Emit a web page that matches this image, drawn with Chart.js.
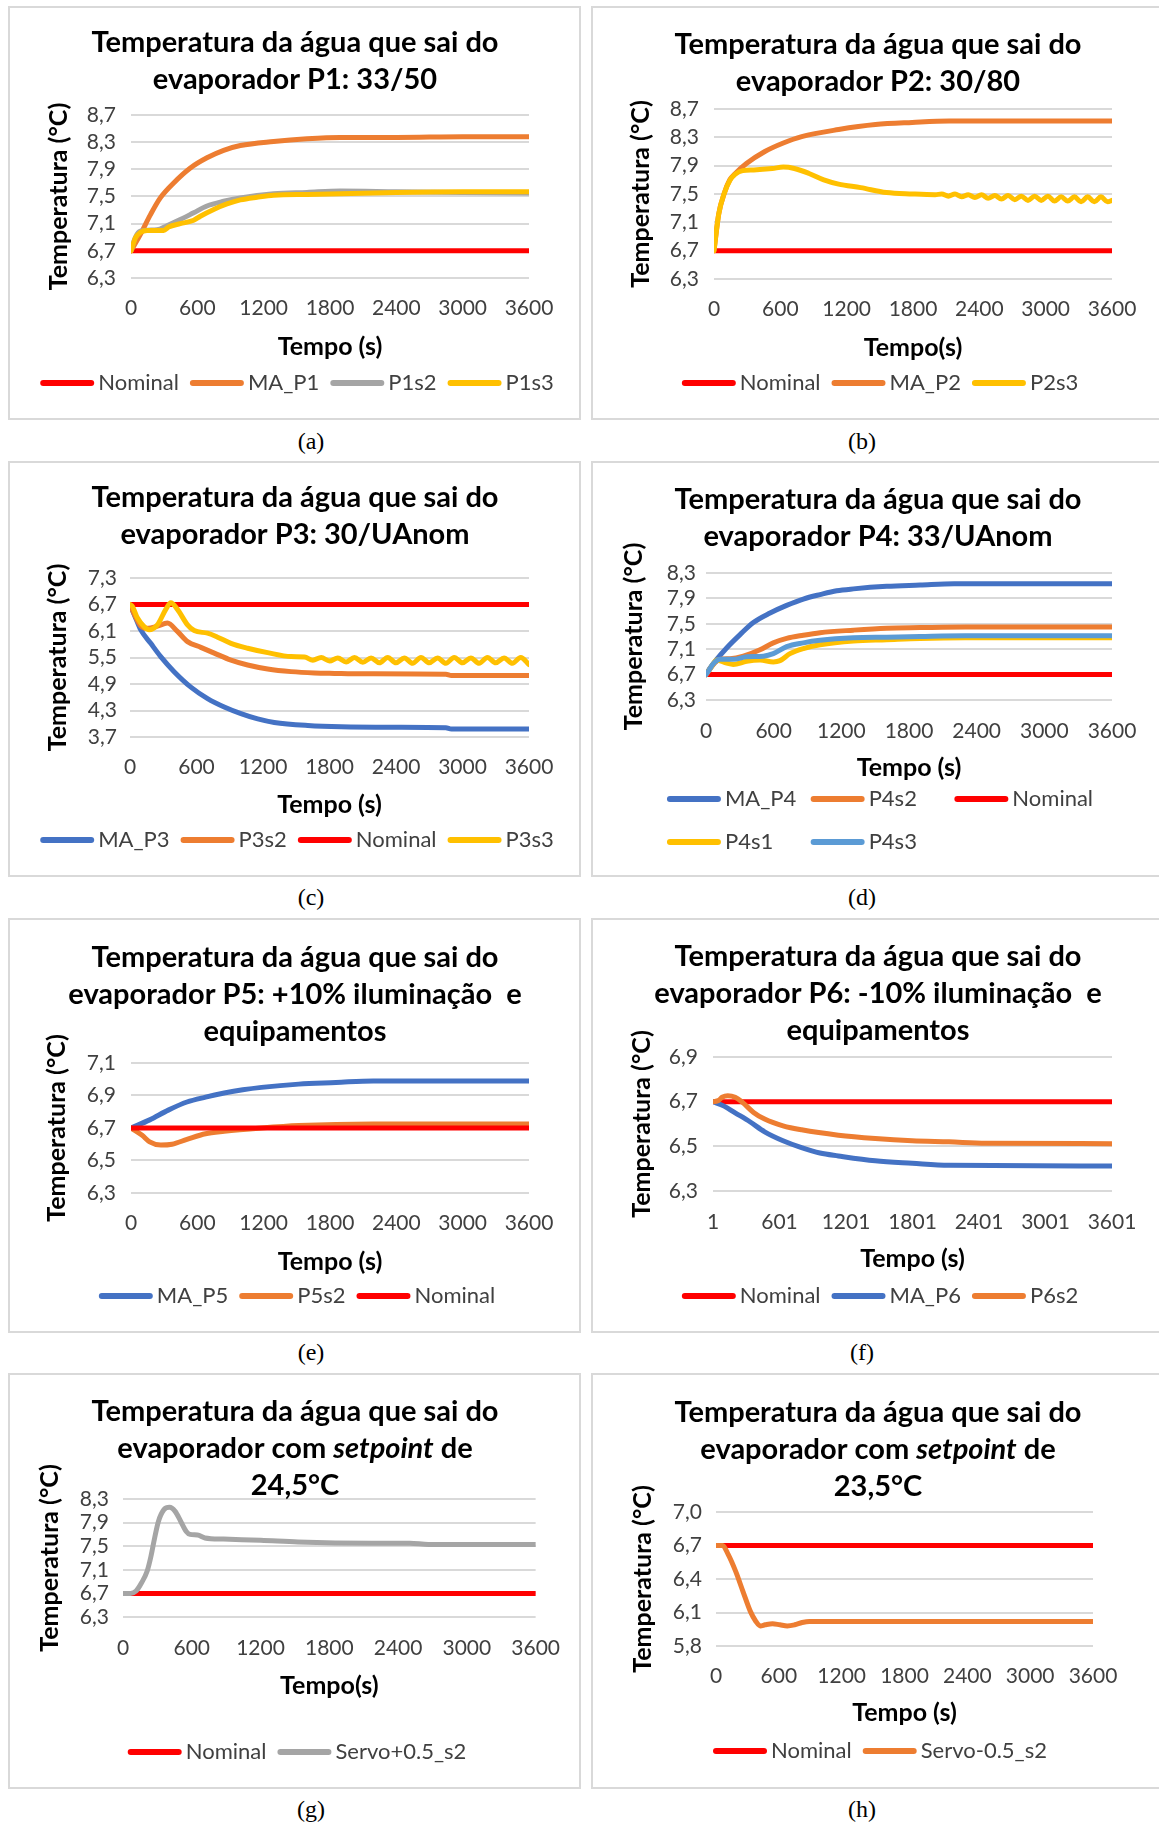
<!DOCTYPE html>
<html>
<head>
<meta charset="utf-8">
<script src="https://cdn.jsdelivr.net/npm/chart.js@4.4.1/dist/chart.umd.min.js"></script>
<style>
  html, body { margin: 0; padding: 0; background: #fff; }
  body { width: 1159px; height: 1824px; position: relative; overflow: hidden; }
  .panel { position: absolute; border: 2px solid #d9d9d9; background: #fff; }
  .panel canvas { display: block; }
  .cap { position: absolute; font-family: "Liberation Serif", "Times New Roman", serif; font-size: 24px; color: #000;
         transform: translate(-50%, -50%); white-space: nowrap; }
</style>
</head>
<body>
<div class="panel" style="left:8px;top:6px;"><canvas id="cA" width="569" height="410"></canvas></div>
<div class="panel" style="left:591px;top:6px;"><canvas id="cB" width="569" height="410"></canvas></div>
<div class="panel" style="left:8px;top:461px;"><canvas id="cC" width="569" height="412"></canvas></div>
<div class="panel" style="left:591px;top:461px;"><canvas id="cD" width="569" height="412"></canvas></div>
<div class="panel" style="left:8px;top:918px;"><canvas id="cE" width="569" height="411"></canvas></div>
<div class="panel" style="left:591px;top:918px;"><canvas id="cF" width="569" height="411"></canvas></div>
<div class="panel" style="left:8px;top:1373px;"><canvas id="cG" width="569" height="412"></canvas></div>
<div class="panel" style="left:591px;top:1373px;"><canvas id="cH" width="569" height="412"></canvas></div>

<div class="cap" style="left:311px;top:441px;">(a)</div>
<div class="cap" style="left:862px;top:441px;">(b)</div>
<div class="cap" style="left:311px;top:897px;">(c)</div>
<div class="cap" style="left:862px;top:897px;">(d)</div>
<div class="cap" style="left:311px;top:1352px;">(e)</div>
<div class="cap" style="left:862px;top:1352px;">(f)</div>
<div class="cap" style="left:311px;top:1809px;">(g)</div>
<div class="cap" style="left:862px;top:1809px;">(h)</div>

<script>
// ---------- axis ticks ----------
const xTicks  = [0, 600, 1200, 1800, 2400, 3000, 3600];
const xTicksF = [1, 601, 1201, 1801, 2401, 3001, 3601];
const yTicksA = [6.3, 6.7, 7.1, 7.5, 7.9, 8.3, 8.7];
const yTicksB = [6.3, 6.7, 7.1, 7.5, 7.9, 8.3, 8.7];
const yTicksC = [3.7, 4.3, 4.9, 5.5, 6.1, 6.7, 7.3];
const yTicksD = [6.3, 6.7, 7.1, 7.5, 7.9, 8.3];
const yTicksE = [6.3, 6.5, 6.7, 6.9, 7.1];
const yTicksF = [6.3, 6.5, 6.7, 6.9];
const yTicksG = [6.3, 6.7, 7.1, 7.5, 7.9, 8.3];
const yTicksH = [5.8, 6.1, 6.4, 6.7, 7.0];

// ---------- titles ----------
const titleA = ['Temperatura da água que sai do', 'evaporador P1: 33/50'];
const titleB = ['Temperatura da água que sai do', 'evaporador P2: 30/80'];
const titleC = ['Temperatura da água que sai do', 'evaporador P3: 30/UAnom'];
const titleD = ['Temperatura da água que sai do', 'evaporador P4: 33/UAnom'];
const titleE = ['Temperatura da água que sai do', 'evaporador P5: +10% iluminação  e', 'equipamentos'];
const titleF = ['Temperatura da água que sai do', 'evaporador P6: -10% iluminação  e', 'equipamentos'];
const titleG = ['Temperatura da água que sai do', 'evaporador com *setpoint* de', '24,5°C'];
const titleH = ['Temperatura da água que sai do', 'evaporador com *setpoint* de', '23,5°C'];

// ---------- nominal outlet temperature ----------
const tNominal  = [0, 3600];
const tNominalF = [1, 3601];
const nominal   = [6.7, 6.7];

// ---------- P1: 33/50 ----------
const tMA_P1 = [0, 84, 175, 265, 386, 537, 687, 838, 989, 1290, 1592, 1893, 2400, 3000, 3600];
const MA_P1  = [6.70, 6.94, 7.23, 7.48, 7.70, 7.92, 8.07, 8.18, 8.25, 8.31, 8.35, 8.37, 8.37, 8.38, 8.38];
const tP1s2  = [0, 40, 84, 235, 325, 446, 567, 687, 838, 989, 1290, 1592, 1893, 2400, 3000, 3600];
const P1s2   = [6.70, 6.90, 6.99, 7.01, 7.07, 7.16, 7.26, 7.36, 7.43, 7.48, 7.54, 7.56, 7.58, 7.57, 7.56, 7.55];
const tP1s3  = [0, 40, 84, 145, 235, 295, 340, 446, 567, 627, 748, 868, 989, 1140, 1290, 1592, 1893, 2400, 3000, 3600];
const P1s3   = [6.70, 6.89, 6.97, 7.00, 7.00, 7.00, 7.05, 7.10, 7.15, 7.21, 7.31, 7.39, 7.45, 7.49, 7.52, 7.53, 7.54, 7.56, 7.57, 7.57];

// ---------- P2: 30/80 ----------
const tMA_P2 = [0, 43, 93, 143, 193, 293, 460, 627, 793, 1127, 1460, 1793, 2127, 2600, 3600];
const MA_P2  = [6.70, 7.22, 7.51, 7.70, 7.79, 7.93, 8.10, 8.22, 8.31, 8.41, 8.48, 8.51, 8.53, 8.53, 8.53];
const tP2s3  = [0, 43, 93, 143, 193, 260, 360, 527, 627, 727, 860, 993, 1127, 1327, 1560, 1793,
                2000, 2060, 2120, 2180, 2240, 2300, 2360, 2420, 2480, 2540, 2600, 2660, 2720, 2780,
                2840, 2900, 2960, 3020, 3080, 3140, 3200, 3260, 3320, 3380, 3440, 3500, 3560, 3600];
const P2s3   = [6.70, 7.22, 7.51, 7.69, 7.78, 7.83, 7.84, 7.86, 7.88, 7.86, 7.79, 7.70, 7.64, 7.59, 7.52, 7.50,
                7.49, 7.50, 7.47, 7.50, 7.46, 7.49, 7.45, 7.49, 7.44, 7.48, 7.43, 7.48, 7.42, 7.47,
                7.41, 7.47, 7.41, 7.47, 7.40, 7.46, 7.40, 7.46, 7.39, 7.46, 7.39, 7.46, 7.39, 7.41];

// ---------- P3: 30/UAnom ----------
const tMA_P3 = [0, 50, 96, 187, 277, 398, 549, 700, 850, 1001, 1152, 1302, 1604, 1905, 2400, 2850, 2900, 3600];
const MA_P3  = [6.70, 6.40, 6.13, 5.82, 5.52, 5.18, 4.83, 4.57, 4.38, 4.23, 4.11, 4.03, 3.96, 3.93, 3.92, 3.91, 3.88, 3.88];
const tP3s2  = [0, 50, 96, 150, 187, 247, 338, 428, 519, 639, 760, 911, 1061, 1242, 1453, 1664, 1845, 2100, 2850, 2900, 3600];
const P3s2   = [6.70, 6.42, 6.22, 6.16, 6.17, 6.21, 6.28, 6.09, 5.86, 5.73, 5.60, 5.44, 5.33, 5.24, 5.18, 5.15, 5.14, 5.13, 5.12, 5.09, 5.09];
const tP3s3  = [0, 21, 66, 127, 172, 247, 323, 368, 428, 519, 579, 700, 790, 911, 1061, 1242, 1453,
                1575, 1650, 1725, 1800, 1875, 1950, 2025, 2100, 2175, 2250, 2325, 2400, 2475, 2550,
                2625, 2700, 2775, 2850, 2925, 3000, 3075, 3150, 3225, 3300, 3375, 3450, 3525, 3600];
const P3s3   = [6.70, 6.66, 6.40, 6.20, 6.13, 6.24, 6.59, 6.74, 6.59, 6.24, 6.11, 6.05, 5.96, 5.82, 5.71, 5.61, 5.52,
                5.51, 5.44, 5.50, 5.42, 5.49, 5.40, 5.50, 5.39, 5.49, 5.38, 5.50, 5.38, 5.49, 5.37,
                5.50, 5.38, 5.49, 5.37, 5.50, 5.38, 5.49, 5.37, 5.50, 5.38, 5.49, 5.37, 5.50, 5.34];

// ---------- P4: 33/UAnom ----------
const tMA_P4 = [0, 35, 95, 183, 302, 420, 568, 715, 863, 1011, 1159, 1307, 1602, 1898, 2200, 3600];
const MA_P4  = [6.70, 6.80, 6.94, 7.12, 7.33, 7.52, 7.67, 7.79, 7.89, 7.96, 8.02, 8.05, 8.09, 8.11, 8.13, 8.13];
const tP4s2  = [0, 20, 65, 124, 213, 331, 479, 597, 715, 863, 1011, 1307, 1602, 1898, 2300, 3600];
const P4s2   = [6.70, 6.75, 6.86, 6.94, 6.95, 6.99, 7.09, 7.20, 7.27, 7.32, 7.36, 7.40, 7.43, 7.44, 7.45, 7.45];
const tP4s1  = [0, 20, 65, 95, 183, 242, 360, 479, 597, 656, 745, 863, 1011, 1307, 1602, 1898, 2300, 3600];
const P4s1   = [6.70, 6.75, 6.87, 6.93, 6.88, 6.86, 6.91, 6.93, 6.90, 6.92, 7.03, 7.11, 7.17, 7.23, 7.25, 7.27, 7.28, 7.28];
const tP4s3  = [0, 20, 65, 124, 242, 360, 508, 597, 715, 863, 1011, 1307, 1602, 1898, 2300, 3600];
const P4s3   = [6.70, 6.75, 6.87, 6.94, 6.94, 6.98, 6.99, 7.03, 7.14, 7.20, 7.24, 7.28, 7.29, 7.30, 7.31, 7.31];

// ---------- P5: +10% lighting and equipment ----------
const tMA_P5 = [0, 169, 337, 506, 674, 843, 1011, 1180, 1517, 1854, 2191, 3600];
const MA_P5  = [6.70, 6.75, 6.81, 6.86, 6.89, 6.915, 6.935, 6.95, 6.97, 6.98, 6.99, 6.99];
const tP5s2  = [0, 101, 169, 270, 371, 506, 674, 843, 1180, 1517, 2191, 3600];
const P5s2   = [6.70, 6.655, 6.615, 6.595, 6.60, 6.63, 6.665, 6.68, 6.70, 6.715, 6.725, 6.725];

// ---------- P6: -10% lighting and equipment ----------
const tMA_P6 = [1, 101, 201, 334, 467, 633, 800, 966, 1132, 1465, 1798, 2130, 3601];
const MA_P6  = [6.70, 6.68, 6.65, 6.61, 6.565, 6.525, 6.494, 6.47, 6.457, 6.435, 6.424, 6.415, 6.412];
const tP6s2  = [1, 50, 84, 134, 201, 267, 367, 467, 633, 800, 1132, 1465, 1798, 2130, 2463, 3601];
const P6s2   = [6.70, 6.705, 6.72, 6.727, 6.72, 6.697, 6.652, 6.622, 6.592, 6.574, 6.55, 6.535, 6.525, 6.52, 6.514, 6.512];

// ---------- setpoint changes ----------
const tServoUp   = [0, 65, 114, 162, 211, 244, 276, 309, 357, 406, 455, 504, 552, 585, 650, 715, 877, 1202, 1527, 2177, 2502, 2664, 3600];
const servoUp    = [6.70, 6.70, 6.74, 6.88, 7.08, 7.33, 7.64, 7.92, 8.12, 8.16, 8.09, 7.92, 7.75, 7.70, 7.69, 7.64, 7.62, 7.60, 7.57, 7.55, 7.55, 7.53, 7.53];
const tServoDown = [0, 63, 116, 187, 257, 328, 381, 423, 469, 540, 610, 681, 751, 822, 892, 1174, 3600];
const servoDown  = [6.70, 6.70, 6.62, 6.47, 6.29, 6.11, 6.02, 5.98, 5.99, 6.00, 5.99, 5.98, 5.99, 6.01, 6.02, 6.02, 6.02];

// ---------- colours ----------
const RED = '#FF0000', ORANGE = '#ED7D31', GRAY = '#A5A5A5', YELLOW = '#FFC000', BLUE = '#4472C4', LBLUE = '#5B9BD5';

const FONT = 'Lato, "Noto Sans", sans-serif';
const TEXT = '#404040';
Chart.defaults.font.family = FONT;

// Multi-line bold title; text between asterisks is set in italics.
const richTitle = {
  id: 'richTitle',
  afterDraw(chart, args, o) {
    const ctx = chart.ctx;
    ctx.save();
    ctx.fillStyle = o.color;
    ctx.textBaseline = 'middle';
    ctx.textAlign = 'left';
    const fontOf = it => (it ? 'italic ' : '') + 'bold ' + o.size + 'px ' + FONT;
    o.lines.forEach((line, i) => {
      const segs = line.split('*').map((t, k) => ({ t, it: k % 2 === 1 })).filter(s => s.t.length);
      let total = 0;
      segs.forEach(s => { ctx.font = fontOf(s.it); s.w = ctx.measureText(s.t).width; total += s.w; });
      let x = o.x - total / 2;
      const y = o.y + i * o.lineHeight;
      segs.forEach(s => { ctx.font = fontOf(s.it); ctx.fillText(s.t, x, y); x += s.w; });
    });
    ctx.restore();
  }
};

// Legend drawn as short thick line samples followed by the series name.
const lineLegend = {
  id: 'lineLegend',
  afterDraw(chart, args, o) {
    const ctx = chart.ctx;
    const ds = chart.data.datasets;
    ctx.save();
    ctx.font = o.size + 'px ' + FONT;
    ctx.textBaseline = 'middle';
    ctx.textAlign = 'left';
    const widths = ds.map(d => o.lineLength + o.textGap + ctx.measureText(d.label).width);
    const perRow = o.columns || ds.length;
    const rows = [];
    for (let i = 0; i < ds.length; i += perRow) rows.push(ds.map((d, k) => k).slice(i, i + perRow));
    let place; // x of the j-th item in row r
    if (o.columns) {
      const colW = Math.max(...widths) + o.colGap;
      const blockW = Math.max(...rows.map(r => colW * (r.length - 1) + widths[r[r.length - 1]]));
      const x0 = o.center - blockW / 2;
      place = (r, j) => x0 + j * colW;
    } else {
      const starts = rows.map(r => {
        const w = r.reduce((a, k) => a + widths[k], 0) + o.itemGap * (r.length - 1);
        return o.center - w / 2;
      });
      place = (r, j) => starts[r] + rows[r].slice(0, j).reduce((a, k) => a + widths[k] + o.itemGap, 0);
    }
    rows.forEach((r, ri) => {
      const y = o.y[ri];
      r.forEach((k, j) => {
        const x = place(ri, j);
        ctx.strokeStyle = ds[k].borderColor;
        ctx.lineWidth = o.lineWidth;
        ctx.lineCap = 'round';
        ctx.beginPath();
        ctx.moveTo(x + o.lineWidth / 2, y);
        ctx.lineTo(x + o.lineLength - o.lineWidth / 2, y);
        ctx.stroke();
        ctx.fillStyle = TEXT;
        ctx.fillText(ds[k].label, x + o.lineLength + o.textGap, y);
      });
    });
    ctx.restore();
  }
};

const S = (label, t, v, color) => ({ label, t, v, color });

const panels = [
  { id: 'cA', title: titleA, xTitle: 'Tempo (s)', xMin: 0, xMax: 3600, xTicks: xTicks, yMin: 6.3, yMax: 8.7, yTicks: yTicksA,
    area: { left: 121, right: 519, top: 107, bottom: 270 }, titleY: 35, xTickY: 300, xTitleY: 339, yTitleX: 49, yTickGap: 15, legendY: [375],
    series: [S('Nominal', tNominal, nominal, RED), S('MA_P1', tMA_P1, MA_P1, ORANGE), S('P1s2', tP1s2, P1s2, GRAY), S('P1s3', tP1s3, P1s3, YELLOW)] },
  { id: 'cB', title: titleB, xTitle: 'Tempo(s)', xMin: 0, xMax: 3600, xTicks: xTicks, yMin: 6.3, yMax: 8.7, yTicks: yTicksB,
    area: { left: 121, right: 519, top: 101, bottom: 271 }, titleY: 37, xTickY: 301, xTitleY: 340, yTitleX: 48, yTickGap: 15, legendY: [375],
    series: [S('Nominal', tNominal, nominal, RED), S('MA_P2', tMA_P2, MA_P2, ORANGE), S('P2s3', tP2s3, P2s3, YELLOW)] },
  { id: 'cC', title: titleC, xTitle: 'Tempo (s)', xMin: 0, xMax: 3600, xTicks: xTicks, yMin: 3.7, yMax: 7.3, yTicks: yTicksC,
    area: { left: 120, right: 519, top: 115, bottom: 274 }, titleY: 35, xTickY: 304, xTitleY: 342, yTitleX: 48, yTickGap: 13, legendY: [377],
    series: [S('MA_P3', tMA_P3, MA_P3, BLUE), S('P3s2', tP3s2, P3s2, ORANGE), S('Nominal', tNominal, nominal, RED), S('P3s3', tP3s3, P3s3, YELLOW)] },
  { id: 'cD', title: titleD, xTitle: 'Tempo (s)', xMin: 0, xMax: 3600, xTicks: xTicks, yMin: 6.3, yMax: 8.3, yTicks: yTicksD,
    area: { left: 113, right: 519, top: 110, bottom: 237 }, titleY: 37, xTickY: 268, xTitleY: 305, yTitleX: 41, yTickGap: 10, legendY: [336, 379], columns: 3,
    series: [S('MA_P4', tMA_P4, MA_P4, BLUE), S('P4s2', tP4s2, P4s2, ORANGE), S('Nominal', tNominal, nominal, RED), S('P4s1', tP4s1, P4s1, YELLOW), S('P4s3', tP4s3, P4s3, LBLUE)] },
  { id: 'cE', title: titleE, xTitle: 'Tempo (s)', xMin: 0, xMax: 3600, xTicks: xTicks, yMin: 6.3, yMax: 7.1, yTicks: yTicksE,
    area: { left: 121, right: 519, top: 143, bottom: 273 }, titleY: 38, xTickY: 303, xTitleY: 342, yTitleX: 47, yTickGap: 15, legendY: [376],
    series: [S('MA_P5', tMA_P5, MA_P5, BLUE), S('P5s2', tP5s2, P5s2, ORANGE), S('Nominal', tNominal, nominal, RED)] },
  { id: 'cF', title: titleF, xTitle: 'Tempo (s)', xMin: 1, xMax: 3601, xTicks: xTicksF, yMin: 6.3, yMax: 6.9, yTicks: yTicksF,
    area: { left: 120, right: 519, top: 137, bottom: 271 }, titleY: 37, xTickY: 302, xTitleY: 339, yTitleX: 49, yTickGap: 15, legendY: [376],
    series: [S('Nominal', tNominalF, nominal, RED), S('MA_P6', tMA_P6, MA_P6, BLUE), S('P6s2', tP6s2, P6s2, ORANGE)] },
  { id: 'cG', title: titleG, xTitle: 'Tempo(s)', xMin: 0, xMax: 3600, xTicks: xTicks, yMin: 6.3, yMax: 8.3, yTicks: yTicksG,
    area: { left: 113, right: 527, top: 124, bottom: 242 }, titleY: 37, xTickY: 273, xTitleY: 311, yTitleX: 40, yTickGap: 14, legendY: [377],
    series: [S('Nominal', tNominal, nominal, RED), S('Servo+0.5_s2', tServoUp, servoUp, GRAY)] },
  { id: 'cH', title: titleH, xTitle: 'Tempo (s)', xMin: 0, xMax: 3600, xTicks: xTicks, yMin: 5.8, yMax: 7.0, yTicks: yTicksH,
    area: { left: 123, right: 500, top: 137, bottom: 271 }, titleY: 38, xTickY: 301, xTitleY: 338, yTitleX: 50, yTickGap: 14, legendY: [376],
    series: [S('Nominal', tNominal, nominal, RED), S('Servo-0.5_s2', tServoDown, servoDown, ORANGE)] }
];

const LH_AXIS = 30, LH_TICK = 24;
const TICK_SIZE = 21, AXIS_TITLE_SIZE = 25, LEGEND_SIZE = 22, TITLE_SIZE = 29;

function build(p) {
  const canvas = document.getElementById(p.id);
  const W = canvas.width, H = canvas.height;
  const n = p.series.length;
  new Chart(canvas, {
    type: 'line',
    data: {
      datasets: p.series.map((s, i) => ({
        label: s.label,
        data: s.t.map((t, k) => ({ x: t, y: s.v[k] })),
        borderColor: s.color,
        backgroundColor: s.color,
        borderWidth: 5,
        pointRadius: 0,
        pointHoverRadius: 0,
        cubicInterpolationMode: 'monotone',
        borderCapStyle: 'round',
        borderJoinStyle: 'round',
        order: n - i
      }))
    },
    options: {
      responsive: false,
      animation: false,
      devicePixelRatio: 1,
      events: [],
      layout: { padding: { left: 0, top: p.area.top, right: W - p.area.right, bottom: H - p.xTitleY - LH_AXIS / 2 } },
      plugins: {
        legend: { display: false },
        tooltip: { enabled: false },
        title: { display: false },
        richTitle: { lines: p.title, x: 285, y: p.titleY, lineHeight: 37, size: TITLE_SIZE, color: '#000' },
        lineLegend: { y: p.legendY, columns: p.columns || 0, center: 287, lineLength: 54, lineWidth: 6,
                      textGap: 4, itemGap: 11, colGap: 5, size: LEGEND_SIZE }
      },
      scales: {
        x: {
          type: 'linear', min: p.xMin, max: p.xMax,
          grid: { display: false, drawTicks: false }, border: { display: false },
          afterBuildTicks: s => { s.ticks = p.xTicks.map(v => ({ value: v })); },
          afterFit: s => { s.height = p.xTitleY + LH_AXIS / 2 - p.area.bottom; },
          ticks: { autoSkip: false, maxRotation: 0, color: TEXT, padding: p.xTickY - p.area.bottom - LH_TICK / 2,
                   font: { size: TICK_SIZE, lineHeight: LH_TICK + 'px' }, callback: v => String(v) },
          title: { display: true, text: p.xTitle, color: '#000', padding: { top: 0, bottom: 0 },
                   font: { size: AXIS_TITLE_SIZE, weight: 'bold', lineHeight: LH_AXIS + 'px' } }
        },
        y: {
          type: 'linear', min: p.yMin, max: p.yMax,
          grid: { color: '#d9d9d9', lineWidth: 2, drawTicks: false }, border: { display: false },
          afterBuildTicks: s => { s.ticks = p.yTicks.map(v => ({ value: v })); },
          afterFit: s => { s.width = p.area.left; },
          ticks: { autoSkip: false, color: TEXT, padding: p.yTickGap, font: { size: TICK_SIZE, lineHeight: LH_TICK + 'px' },
                   callback: v => Number(v).toFixed(1).replace('.', ',') },
          title: { display: true, text: 'Temperatura (°C)', color: '#000', padding: { top: p.yTitleX - LH_AXIS / 2, bottom: 0 },
                   font: { size: AXIS_TITLE_SIZE, weight: 'bold', lineHeight: LH_AXIS + 'px' } }
        }
      }
    },
    plugins: [richTitle, lineLegend]
  });
}

panels.forEach(build);
</script>
</body>
</html>
